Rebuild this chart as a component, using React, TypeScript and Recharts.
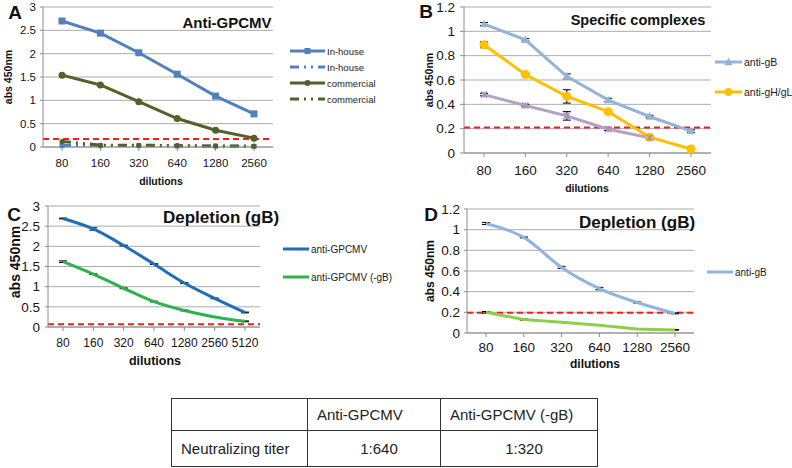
import React from 'react';
import { LineChart, Line, XAxis, YAxis, CartesianGrid, ReferenceLine, Legend, ErrorBar } from 'recharts';

const FONT = '"Liberation Sans", Arial, sans-serif';
const GRID = '#ababab';
const AXIS = '#8c8c8c';
const RED = '#e8221c';

// ---- panel A: anti-GPCMV ----
const dilA = ['80', '160', '320', '640', '1280', '2560'];
const inHouse = [2.7, 2.44, 2.02, 1.56, 1.09, 0.71];
const inHouseCtrl = [0.03, 0.03, 0.03, 0.02, 0.02, 0.01];
const commercial = [1.54, 1.33, 0.97, 0.61, 0.36, 0.19];
const commercialCtrl = [0.12, 0.04, 0.04, 0.03, 0.02, 0.02];
const cutoffA = 0.17;
const ticksA = [0, 0.5, 1, 1.5, 2, 2.5, 3];

// ---- panel B: specific complexes ----
const dilB = ['80', '160', '320', '640', '1280', '2560'];
const antiGB = [1.06, 0.93, 0.63, 0.435, 0.3, 0.18];
const antiGBErr = [0.012, 0.01, 0.02, 0.015, 0.01, 0.01];
const antiGHgL = [0.89, 0.645, 0.465, 0.34, 0.13, 0.033];
const antiGHgLErr = [0.025, 0.01, 0.055, 0.01, 0.01, 0.005];
const thirdB = [0.48, 0.39, 0.305, 0.195, 0.125];
const thirdBErr = [0.01, 0.01, 0.035, 0.01, 0.01];
const cutoffB = 0.21;
const ticksB = [0, 0.2, 0.4, 0.6, 0.8, 1, 1.2];

// ---- panel C: depletion, whole serum ----
const dilC = ['80', '160', '320', '640', '1280', '2560', '5120'];
const antiGPCMV = [2.69, 2.43, 2.02, 1.56, 1.09, 0.71, 0.36];
const antiGPCMVErr = [0.01, 0.03, 0.01, 0.01, 0.01, 0.01, 0.01];
const antiGPCMVnoGB = [1.62, 1.31, 0.96, 0.63, 0.41, 0.25, 0.14];
const antiGPCMVnoGBErr = [0.02, 0.01, 0.01, 0.01, 0.01, 0.01, 0.01];
const cutoffC = 0.07;
const ticksC = [0, 0.5, 1, 1.5, 2, 2.5, 3];

// ---- panel D: depletion, anti-gB ----
const dilD = ['80', '160', '320', '640', '1280', '2560'];
const antiGBD = [1.06, 0.925, 0.635, 0.43, 0.295, 0.19];
const antiGBDErr = [0.01, 0.005, 0.01, 0.012, 0.005, 0.005];
const depletedD = [0.2, 0.13, 0.105, 0.075, 0.038, 0.03];
const depletedDErr = [0.008, 0.006, 0.003, 0.003, 0.003, 0.003];
const cutoffD = 0.195;
const ticksD = [0, 0.2, 0.4, 0.6, 0.8, 1, 1.2];

// ---- table ----
const tableHead = ['', 'Anti-GPCMV', 'Anti-GPCMV (-gB)'];
const tableRow = ['Neutralizing titer', '1:640', '1:320'];

const dataA = dilA.map((d, i) => ({ dil: d, inHouse: inHouse[i], inHouseCtrl: inHouseCtrl[i], commercial: commercial[i], commercialCtrl: commercialCtrl[i] }));
const dataB = dilB.map((d, i) => ({ dil: d, gB: antiGB[i], gBErr: antiGBErr[i], gHgL: antiGHgL[i], gHgLErr: antiGHgLErr[i], third: thirdB[i], thirdErr: thirdBErr[i] }));
const dataC = dilC.map((d, i) => ({ dil: d, full: antiGPCMV[i], fullErr: antiGPCMVErr[i], noGB: antiGPCMVnoGB[i], noGBErr: antiGPCMVnoGBErr[i] }));
const dataD = dilD.map((d, i) => ({ dil: d, gB: antiGBD[i], gBErr: antiGBDErr[i], dep: depletedD[i], depErr: depletedDErr[i] }));

type Kind = 'square' | 'circle' | 'triangle' | 'star';

function Marker({ kind, cx, cy, color, size }: { kind: Kind; cx: number; cy: number; color: string; size: number }) {
  const r = size / 2;
  if (kind === 'square') return <rect x={cx - r} y={cy - r} width={size} height={size} fill={color} />;
  if (kind === 'circle') return <circle cx={cx} cy={cy} r={r} fill={color} />;
  if (kind === 'triangle')
    return <polygon points={`${cx},${cy - r * 1.1} ${cx - r},${cy + r * 0.8} ${cx + r},${cy + r * 0.8}`} fill={color} />;
  return (
    <g stroke={color} strokeWidth={1.5}>
      <line x1={cx - r} y1={cy - r} x2={cx + r} y2={cy + r} />
      <line x1={cx - r} y1={cy + r} x2={cx + r} y2={cy - r} />
      <line x1={cx} y1={cy - r} x2={cx} y2={cy + r} />
    </g>
  );
}

const dotOf = (kind: Kind, color: string, size: number) => (p: any) => {
  if (p.cx == null || p.cy == null || p.value == null || Number.isNaN(p.cy)) return <g key={`e${p.index}`} />;
  return <Marker key={`d${p.index}`} kind={kind} cx={p.cx} cy={p.cy} color={color} size={size} />;
};

type LegendSpec = { key: string; label: string; color: string; dash?: string; marker?: Kind; msize?: number };

const makeLegend = (specs: LegendSpec[], rowH: number, iconW: number, fontSize: number) => (props: any) => {
  const payload: any[] = props.payload || [];
  return (
    <div style={{ fontFamily: FONT, fontSize, color: '#1a1a1a' }}>
      {specs.map((s) => {
        const hit = payload.find((p) => p.dataKey === s.key);
        const color = hit?.color ?? s.color;
        return (
          <div key={s.key + s.label + (s.dash || '')} style={{ display: 'flex', alignItems: 'center', height: rowH }}>
            <svg width={iconW} height={12} style={{ display: 'block' }}>
              <line x1={0} y1={6} x2={iconW} y2={6} stroke={color} strokeWidth={3} strokeDasharray={s.dash} />
              {s.marker && <Marker kind={s.marker} cx={iconW / 2} cy={6} color={color} size={s.msize || 6} />}
            </svg>
            <span style={{ marginLeft: 2, whiteSpace: 'nowrap' }}>{s.label}</span>
          </div>
        );
      })}
    </div>
  );
};

const CTRL_DASH = '9 5 2 5 2 5';

const legendA = makeLegend(
  [
    { key: 'inHouse', label: 'In-house', color: '#4f81bd', marker: 'square', msize: 6 },
    { key: 'inHouseCtrl', label: 'In-house', color: '#4f81bd', dash: CTRL_DASH },
    { key: 'commercial', label: 'commercial', color: '#4f6228', marker: 'circle', msize: 6 },
    { key: 'commercialCtrl', label: 'commercial', color: '#4f6228', dash: CTRL_DASH },
  ],
  16, 35, 9.5,
);
const legendB = makeLegend(
  [
    { key: 'gB', label: 'anti-gB', color: '#95b3d7', marker: 'triangle', msize: 8 },
    { key: 'gHgL', label: 'anti-gH/gL', color: '#ffc000', marker: 'circle', msize: 8 },
  ],
  30, 27, 10.5,
);
const legendC = makeLegend(
  [
    { key: 'full', label: 'anti-GPCMV', color: '#1f6fb6' },
    { key: 'noGB', label: 'anti-GPCMV (-gB)', color: '#2db34b' },
  ],
  28, 26, 10,
);
const legendD = makeLegend([{ key: 'gB', label: 'anti-gB', color: '#8fb4e0' }], 28, 26, 10);

function Txt({ x, y, size, bold, rotate, children }: { x: number; y: number; size: number; bold?: boolean; rotate?: boolean; children: React.ReactNode }) {
  return (
    <div
      style={{
        position: 'absolute',
        left: x,
        top: y,
        transform: `translate(-50%, -50%)${rotate ? ' rotate(-90deg)' : ''}`,
        fontSize: size,
        fontWeight: bold ? 700 : 400,
        lineHeight: 1,
        whiteSpace: 'nowrap',
        color: '#111',
      }}
    >
      {children}
    </div>
  );
}

const tickStyle = (size: number) => ({ fontSize: size, fill: '#151515', fontFamily: FONT });
const errBar = (key: string) => <ErrorBar dataKey={key} width={4} strokeWidth={1} stroke="#000" direction="y" />;

export default function App() {
  return (
    <div style={{ position: 'absolute', left: 0, top: 0, width: 792, height: 468, background: '#fff', fontFamily: FONT, overflow: 'hidden' }}>
      {/* A */}
      <div style={{ position: 'absolute', left: 0, top: 0 }}>
        <LineChart width={390} height={200} data={dataA} margin={{ top: 7, right: 117, bottom: 8, left: 0 }}>
          <CartesianGrid vertical={false} stroke={GRID} />
          <XAxis dataKey="dil" interval={0} padding={{ left: 19, right: 19 }} height={45} tick={tickStyle(11.5)} tickSize={4} tickMargin={8} axisLine={{ stroke: AXIS }} tickLine={{ stroke: AXIS }} />
          <YAxis domain={[0, 3]} ticks={ticksA} interval={0} width={43} tick={tickStyle(11.5)} tickSize={3} tickMargin={4} axisLine={{ stroke: AXIS }} tickLine={{ stroke: AXIS }} />
          <ReferenceLine y={cutoffA} stroke={RED} strokeWidth={2} strokeDasharray="6 4" />
          <Line dataKey="inHouse" name="In-house" stroke="#4f81bd" strokeWidth={3} dot={dotOf('square', '#4f81bd', 7)} isAnimationActive={false} />
          <Line dataKey="inHouseCtrl" name="In-house" stroke="#4f81bd" strokeWidth={3} strokeDasharray={CTRL_DASH} dot={dotOf('square', '#4f81bd', 5)} isAnimationActive={false} />
          <Line dataKey="commercial" name="commercial" stroke="#4f6228" strokeWidth={3} dot={dotOf('circle', '#4f6228', 7)} isAnimationActive={false} />
          <Line dataKey="commercialCtrl" name="commercial" stroke="#4f6228" strokeWidth={3} strokeDasharray={CTRL_DASH} dot={dotOf('circle', '#4f6228', 5)} isAnimationActive={false} />
          <Legend layout="vertical" align="center" verticalAlign="middle" content={legendA} wrapperStyle={{ left: 290, top: 43, width: 100 }} />
        </LineChart>
      </div>

      {/* B */}
      <div style={{ position: 'absolute', left: 390, top: 0 }}>
        <LineChart width={402} height={200} data={dataB} margin={{ top: 7, right: 81, bottom: 7, left: 36 }}>
          <CartesianGrid vertical={false} stroke={GRID} />
          <XAxis dataKey="dil" interval={0} padding={{ left: 20, right: 20 }} height={40} tick={tickStyle(13.5)} tickSize={4} tickMargin={8} axisLine={{ stroke: AXIS }} tickLine={{ stroke: AXIS }} />
          <YAxis domain={[0, 1.2]} ticks={ticksB} interval={0} width={38} tick={tickStyle(13.5)} tickSize={4} tickMargin={5} axisLine={{ stroke: AXIS }} tickLine={{ stroke: AXIS }} />
          <ReferenceLine y={cutoffB} stroke={RED} strokeWidth={2} strokeDasharray="6 4" />
          <Line dataKey="gB" name="anti-gB" stroke="#95b3d7" strokeWidth={3} dot={dotOf('triangle', '#95b3d7', 8)} isAnimationActive={false}>
            {errBar('gBErr')}
          </Line>
          <Line dataKey="gHgL" name="anti-gH/gL" stroke="#ffc000" strokeWidth={3} dot={dotOf('circle', '#ffc000', 9)} isAnimationActive={false}>
            {errBar('gHgLErr')}
          </Line>
          <Line dataKey="third" legendType="none" stroke="#b3a2c7" strokeWidth={3} dot={dotOf('star', '#a593c0', 6)} isAnimationActive={false}>
            {errBar('thirdErr')}
          </Line>
          <Legend layout="vertical" align="center" verticalAlign="middle" content={legendB} wrapperStyle={{ left: 325, top: 47, width: 80 }} />
        </LineChart>
      </div>

      {/* C */}
      <div style={{ position: 'absolute', left: 0, top: 195 }}>
        <LineChart width={390} height={175} data={dataC} margin={{ top: 11, right: 130, bottom: 5, left: 0 }}>
          <CartesianGrid vertical={false} stroke={GRID} />
          <XAxis dataKey="dil" interval={0} padding={{ left: 15, right: 15 }} height={38} tick={tickStyle(12)} tickSize={4} tickMargin={7} axisLine={{ stroke: AXIS }} tickLine={{ stroke: AXIS }} />
          <YAxis domain={[0, 3]} ticks={ticksC} interval={0} width={48} tick={tickStyle(13.5)} tickSize={3} tickMargin={5} axisLine={{ stroke: AXIS }} tickLine={{ stroke: AXIS }} />
          <ReferenceLine y={cutoffC} stroke={RED} strokeWidth={2} strokeDasharray="6 4" />
          <Line type="monotone" dataKey="full" name="anti-GPCMV" stroke="#1f6fb6" strokeWidth={3} dot={false} isAnimationActive={false}>
            {errBar('fullErr')}
          </Line>
          <Line type="monotone" dataKey="noGB" name="anti-GPCMV (-gB)" stroke="#2db34b" strokeWidth={3} dot={false} isAnimationActive={false}>
            {errBar('noGBErr')}
          </Line>
          <Legend layout="vertical" align="center" verticalAlign="middle" content={legendC} wrapperStyle={{ left: 283, top: 40, width: 110 }} />
        </LineChart>
      </div>

      {/* D */}
      <div style={{ position: 'absolute', left: 390, top: 195 }}>
        <LineChart width={402} height={175} data={dataD} margin={{ top: 14, right: 98, bottom: 4, left: 37 }}>
          <CartesianGrid vertical={false} stroke={GRID} />
          <XAxis dataKey="dil" interval={0} padding={{ left: 19, right: 19 }} height={33} tick={tickStyle(13.5)} tickSize={4} tickMargin={5} axisLine={{ stroke: AXIS }} tickLine={{ stroke: AXIS }} />
          <YAxis domain={[0, 1.2]} ticks={ticksD} interval={0} width={40} tick={tickStyle(13.5)} tickSize={3} tickMargin={4} axisLine={{ stroke: AXIS }} tickLine={{ stroke: AXIS }} />
          <ReferenceLine y={cutoffD} stroke={RED} strokeWidth={2} strokeDasharray="6 4" />
          <Line type="monotone" dataKey="gB" name="anti-gB" stroke="#8fb4e0" strokeWidth={3} dot={false} isAnimationActive={false}>
            {errBar('gBErr')}
          </Line>
          <Line dataKey="dep" legendType="none" stroke="#8fce4c" strokeWidth={3} dot={false} isAnimationActive={false}>
            {errBar('depErr')}
          </Line>
          <Legend layout="vertical" align="center" verticalAlign="middle" content={legendD} wrapperStyle={{ left: 317, top: 63, width: 80 }} />
        </LineChart>
      </div>

      {/* panel letters, titles and axis titles */}
      <Txt x={15} y={11.5} size={19} bold>A</Txt>
      <Txt x={426} y={10.5} size={19} bold>B</Txt>
      <Txt x={14} y={213.5} size={19} bold>C</Txt>
      <Txt x={431} y={213.5} size={19} bold>D</Txt>

      <Txt x={227} y={22} size={15} bold>Anti-GPCMV</Txt>
      <Txt x={638} y={20} size={14.5} bold>Specific complexes</Txt>
      <Txt x={221} y={217} size={17} bold>Depletion (gB)</Txt>
      <Txt x={637} y={222} size={17} bold>Depletion (gB)</Txt>

      <Txt x={8} y={77} size={10.5} bold rotate>abs 450nm</Txt>
      <Txt x={429} y={80} size={10.5} bold rotate>abs 450nm</Txt>
      <Txt x={15} y={262} size={14} bold rotate>abs 450nm</Txt>
      <Txt x={430} y={271} size={12} bold rotate>abs 450nm</Txt>

      <Txt x={161} y={181} size={10.5} bold>dilutions</Txt>
      <Txt x={587} y={188} size={10.5} bold>dilutions</Txt>
      <Txt x={155} y={361} size={12.5} bold>dilutions</Txt>
      <Txt x={595} y={364} size={12} bold>dilutions</Txt>

      {/* neutralizing titer table */}
      <table
        style={{
          position: 'absolute',
          left: 171,
          top: 398,
          borderCollapse: 'collapse',
          fontFamily: FONT,
          fontSize: 15,
          color: '#222',
        }}
      >
        <tbody>
          <tr style={{ height: 32 }}>
            {tableHead.map((t, i) => (
              <td key={i} style={{ border: '1px solid #333', width: [126, 123, 147][i], padding: '0 0 0 9px', textAlign: 'left' }}>{t}</td>
            ))}
          </tr>
          <tr style={{ height: 36 }}>
            {tableRow.map((t, i) => (
              <td key={i} style={{ border: '1px solid #333', padding: i === 0 ? '0 0 0 9px' : '0 0 0 10px', textAlign: i === 0 ? 'left' : 'center' }}>{t}</td>
            ))}
          </tr>
        </tbody>
      </table>
    </div>
  );
}
